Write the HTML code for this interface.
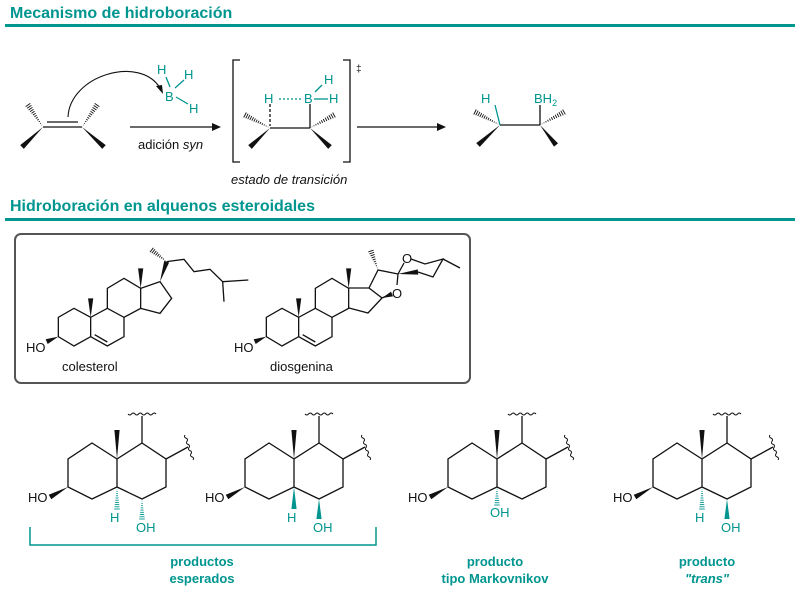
<!DOCTYPE html>
<html><head><meta charset="utf-8"><style>
html,body{margin:0;padding:0;background:#fff;width:800px;height:594px;overflow:hidden}
svg{display:block}
text{font-family:"Liberation Sans",Arial,sans-serif}
.h{font-weight:bold;font-size:16px;fill:#00958f}
.a{font-size:13px;fill:#111}
.c{font-size:13px;fill:#00958f}
</style></head><body>
<svg id="s" width="800" height="594" viewBox="0 0 800 594" xmlns="http://www.w3.org/2000/svg">
<text x="10" y="18" class="h">Mecanismo de hidroboración</text>
<rect x="5" y="24" width="790" height="3" fill="#00958f"/>
<text x="10" y="211" class="h">Hidroboración en alquenos esteroidales</text>
<rect x="5" y="218" width="790" height="3" fill="#00958f"/>
<rect x="15" y="234" width="455" height="149" rx="6" fill="none" stroke="#555" stroke-width="2"/>
<text x="157" y="74" class="c">H</text><text x="184" y="79" class="c">H</text>
<text x="165" y="101" class="c">B</text><text x="189" y="113" class="c">H</text>
<text x="138" y="149" class="a">adición <tspan font-style="italic">syn</tspan></text>
<text x="264" y="103" class="c">H</text><text x="304" y="103" class="c">B</text><text x="329" y="103" class="c">H</text><text x="324" y="84" class="c">H</text>
<text x="356" y="72" font-size="10" fill="#111">‡</text>
<text x="231" y="184" class="a" font-style="italic">estado de transición</text>
<text x="481" y="103" class="c">H</text><text x="534" y="103" class="c">BH<tspan font-size="9" dy="3">2</tspan></text>
<text x="26" y="352" class="a">HO</text><text x="62" y="371" class="a">colesterol</text>
<text x="234" y="352" class="a">HO</text><text x="270" y="371" class="a">diosgenina</text>
<text x="402" y="263" class="a">O</text><text x="392" y="298" class="a">O</text>
<text x="28" y="502" class="a">HO</text><text x="110" y="522" class="c">H</text><text x="136" y="532" class="c">OH</text>
<text x="205" y="502" class="a">HO</text><text x="287" y="522" class="c">H</text><text x="313" y="532" class="c">OH</text>
<text x="408" y="502" class="a">HO</text><text x="490" y="517" class="c">OH</text>
<text x="613" y="502" class="a">HO</text><text x="695" y="522" class="c">H</text><text x="721" y="532" class="c">OH</text>
<path d="M30 527V545H376V527" fill="none" stroke="#00958f" stroke-width="1.5"/>
<text x="202" y="566" class="c" font-weight="bold" text-anchor="middle">productos</text>
<text x="202" y="583" class="c" font-weight="bold" text-anchor="middle">esperados</text>
<text x="495" y="566" class="c" font-weight="bold" text-anchor="middle">producto</text>
<text x="495" y="583" class="c" font-weight="bold" text-anchor="middle">tipo Markovnikov</text>
<text x="707" y="566" class="c" font-weight="bold" text-anchor="middle">producto</text>
<text x="707" y="583" class="c" font-weight="bold" text-anchor="middle" font-style="italic">"trans"</text>
<g id="g" stroke="#111" stroke-width="1.3" fill="none"></g>
</svg>
<script>
var g=document.getElementById('g'),NS='http://www.w3.org/2000/svg';
function el(n,a){var e=document.createElementNS(NS,n);for(var k in a)e.setAttribute(k,a[k]);g.appendChild(e);return e}
function L(x1,y1,x2,y2,c,d){var e=el('line',{x1:x1,y1:y1,x2:x2,y2:y2});if(c)e.setAttribute('stroke',c);if(d)e.setAttribute('stroke-dasharray',d);}
function P(pts,c){el('polyline',{points:pts.map(function(p){return p.join(',')}).join(' '),stroke:c||'#111'})}
function W(x1,y1,x2,y2,c){var dx=x2-x1,dy=y2-y1,l=Math.hypot(dx,dy),nx=-dy/l*2.6,ny=dx/l*2.6;
 el('polygon',{points:x1+','+y1+' '+(x2+nx)+','+(y2+ny)+' '+(x2-nx)+','+(y2-ny),fill:c||'#111',stroke:'none'})}
function H(x1,y1,x2,y2,c){var dx=x2-x1,dy=y2-y1,l=Math.hypot(dx,dy),n=Math.max(5,Math.round(l/2.2));
 for(var i=1;i<=n;i++){var t=i/n,w=2.8*t,px=x1+dx*t,py=y1+dy*t,nx=-dy/l*w,ny=dx/l*w;
 var e=el('line',{x1:px+nx,y1:py+ny,x2:px-nx,y2:py-ny,'stroke-width':0.9});if(c)e.setAttribute('stroke',c)}}
function WV(x1,y1,x2,y2){var d='M'+x1+' '+y1,dx=x2-x1,dy=y2-y1,n=8;var l=Math.hypot(dx,dy),nx=-dy/l*2,ny=dx/l*2;
 for(var i=1;i<=n;i++){var t=(i-0.5)/n,s=i%2?1:-1;d+=' Q'+(x1+dx*t+nx*s)+' '+(y1+dy*t+ny*s)+' '+(x1+dx*i/n)+' '+(y1+dy*i/n)}
 el('path',{d:d,'stroke-width':1})}
var T='#00958f';
L(43,127,82,127);L(47,122,78,122);H(43,127,28,105);W(43,127,22,147);H(82,127,97,105);W(82,127,104,147);
el('path',{d:'M68,117 C70,75 140,55 160,88','stroke-width':1.1});el('polygon',{points:'163,94 156,86 162,85',fill:'#111',stroke:'none'});
L(166,77,170,87,T);L(175,88,184,80,T);L(176,97,188,104,T);
L(130,127,213,127);el('polygon',{points:'221,127 212,123 212,131',fill:'#111',stroke:'none'});
P([[240,60],[233,60],[233,162],[240,162]]);P([[343,60],[350,60],[350,162],[343,162]]);
L(270,128,310,128);L(270,104,270,126,null,'3,2');L(279,99,303,99,T,'2,2');L(314,99,328,99,T);L(315,92,322,85,T);L(310,104,310,128);
H(270,128,245,115);W(270,128,250,147);H(310,128,334,115);W(310,128,330,147);
L(357,127,438,127);el('polygon',{points:'446,127 437,123 437,131',fill:'#111',stroke:'none'});
L(500,125,540,125);L(495,105,500,125,T);L(540,105,540,125);H(500,125,475,112);W(500,125,478,145);H(540,125,564,112);W(540,125,556,145);
function S(ox,pts){return pts.map(function(p){return [p[0]/3+ox,p[1]/3+230]})}
function ster(ox,dring){
 P(S(ox,[[272,262],[222,235],[175,262],[175,320],[222,348],[272,320],[272,262],[322,235],[372,262],[372,320],[322,348],[272,320]]));
 P(S(ox,[[284,314],[322,336]]));
 P(S(ox,[[322,235],[322,175],[372,145],[422,175],[422,235],[372,262]]));
 if(dring)P(S(ox,[[422,175],[480,155],[515,205],[480,250],[422,235]]));
 var a=S(ox,[[272,262],[272,205]]);W(a[0][0],a[0][1],a[1][0],a[1][1]);
 a=S(ox,[[422,175],[422,115]]);W(a[0][0],a[0][1],a[1][0],a[1][1]);
 a=S(ox,[[175,320],[140,335]]);W(a[0][0],a[0][1],a[1][0],a[1][1]);
}
ster(0,true);
var a=S(0,[[480,155],[500,95]]);W(a[0][0],a[0][1],a[1][0],a[1][1]);
a=S(0,[[500,95],[455,60]]);H(a[0][0],a[0][1],a[1][0],a[1][1]);
P(S(0,[[500,95],[552,88],[582,125],[630,118],[668,155],[745,150]]));P(S(0,[[668,155],[672,215]]));
ster(208,false);
// diosgenin D/E/F rings
P([[349,288],[369,288],[382,298],[368,313],[349,308]]);
P([[369,288],[378,270],[398,274],[397,285]]);
P([[382,298],[391,294]]);
W(382,298,392,294);
H(378,270,371,251);
P([[398,274],[404,263]]);P([[411,259],[425,264],[443,259],[433,277],[418,272]]);
W(398,274,418,272);
L(443,259,460,268);
function dec(ox,mode){
 P([[117+ox,459],[92+ox,443],[68+ox,459],[68+ox,487],[92+ox,499],[117+ox,487],[117+ox,459],[142+ox,443],[166+ox,459],[166+ox,487],[142+ox,499],[117+ox,487]]);
 W(117+ox,459,117+ox,430);L(142+ox,443,142+ox,416);WV(128+ox,414,156+ox,414);L(166+ox,459,188+ox,447);WV(185+ox,435,193+ox,460);
 W(68+ox,487,50+ox,497);
 if(mode==1){H(117+ox,487,117+ox,509,T);H(142+ox,499,142+ox,519,T)}
 if(mode==2){W(117+ox,487,117+ox,509,T);W(142+ox,499,142+ox,519,T)}
 if(mode==3){H(117+ox,487,117+ox,505,T)}
 if(mode==4){H(117+ox,487,117+ox,509,T);W(142+ox,499,142+ox,519,T)}
}
dec(0,1);dec(177,2);dec(380,3);dec(585,4);
</script>
</body></html>
